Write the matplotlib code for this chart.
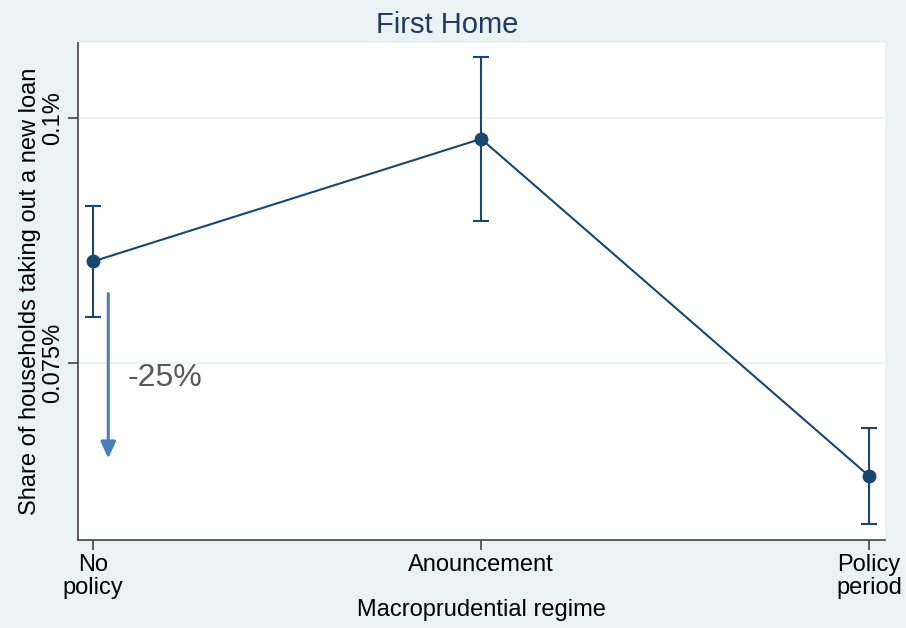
import matplotlib.pyplot as plt
from matplotlib.ticker import FuncFormatter

plt.rcParams['font.family'] = ['Liberation Sans', 'DejaVu Sans']

# Estimated share of households taking out a new loan (%), first home buyers
regimes = ['No\npolicy', 'Anouncement', 'Policy\nperiod']
share = [0.0854, 0.0979, 0.0635]
ci_low = [0.0797, 0.0895, 0.0586]
ci_high = [0.0911, 0.1063, 0.0684]
yticks = [0.075, 0.1]

# annotation of the drop between no-policy and policy period
arrow_x = 0.039
arrow_y = (0.0824, 0.0650)
drop_label = '-25%'

bg = '#eaf2f3'
navy = '#1a476f'

fig = plt.figure(figsize=(9.06, 6.28), dpi=100, facecolor=bg)
ax = fig.add_axes([0.0861, 0.1401, 0.8907, 0.7914])
ax.set_facecolor('white')

x = list(range(len(regimes)))
yerr = [[s - lo for s, lo in zip(share, ci_low)],
        [hi - s for s, hi in zip(share, ci_high)]]
ax.errorbar(x, share, yerr=yerr, color=navy, lw=1.5, marker='o', ms=9,
            capsize=6, capthick=1.5, elinewidth=1.5, zorder=3)

ax.annotate('', xy=(arrow_x, arrow_y[1]), xytext=(arrow_x, arrow_y[0]),
            arrowprops=dict(arrowstyle='-|>,head_width=0.45,head_length=1.0',
                            color='#4a7ebb', lw=2.2))
ax.text(arrow_x + 0.05, (arrow_y[0] + arrow_y[1]) / 2 - 0.0002, drop_label,
        fontsize=23, color='#595959', va='center', ha='left')

ax.set_xlim(-0.039, 2.041)
ax.set_ylim(0.05697, 0.10768)
ax.set_xticks(x)
ax.set_xticklabels(regimes, fontsize=17, linespacing=1.05)
ax.set_yticks(yticks)
ax.yaxis.set_major_formatter(FuncFormatter(lambda v, p: f'{v:g}%'))
for lab in ax.get_yticklabels():
    lab.set_rotation(90)
    lab.set_va('center')
    lab.set_fontsize(17)

ax.grid(axis='y', color=bg, lw=1.2)
ax.set_axisbelow(True)
for side in ['top', 'right']:
    ax.spines[side].set_visible(False)
for side in ['left', 'bottom']:
    ax.spines[side].set_color('#444444')
    ax.spines[side].set_linewidth(1.2)
ax.tick_params(length=7, width=1.2, color='#444444', pad=3)

fig.suptitle('First Home', x=0.494, y=0.982, va='top', fontsize=21,
             color='#1e3a5f')
ax.set_xlabel('Macroprudential regime', fontsize=17, labelpad=0)
ax.set_ylabel('Share of households taking out a new loan', fontsize=17,
              labelpad=1)

fig.savefig('out.png', dpi=100, facecolor=bg)
